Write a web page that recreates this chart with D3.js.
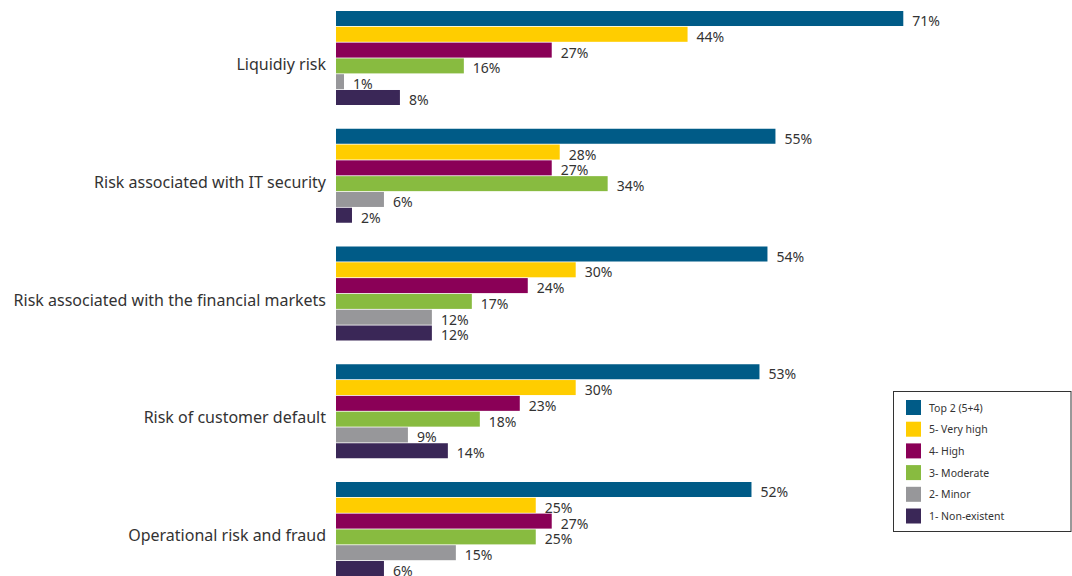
<!DOCTYPE html>
<html><head><meta charset="utf-8">
<script src="https://cdn.jsdelivr.net/npm/d3@7"></script>
<style>
html,body{margin:0;padding:0;background:#fff;}
svg{display:block;font-family:"Noto Sans",sans-serif;}
</style></head>
<body><svg id="chart" width="1072" height="576"></svg>
<script>
const categories = ["Liquidiy risk","Risk associated with IT security","Risk associated with the financial markets","Risk of customer default","Operational risk and fraud"];
const seriesNames = ["Top 2 (5+4)","5- Very high","4- High","3- Moderate","2- Minor","1- Non-existent"];
const seriesColors = ["#005B87","#FFCD00","#8A0057","#88BB40","#97979A","#3A2757"];
const top2 =     [71,55,54,53,52];
const veryHigh = [44,28,30,30,25];
const high =     [27,27,24,23,27];
const moderate = [16,34,17,18,25];
const minor =    [1,6,12,9,15];
const nonExist = [8,2,12,14,6];
const seriesValues = [top2,veryHigh,high,moderate,minor,nonExist];

const svg = d3.select("#chart");
const x = d3.scaleLinear().domain([0,100]).range([336,1135]);
const y = d3.scaleBand().domain(categories).range([11,576]).paddingInner(0.2017).paddingOuter(0);
const ys = d3.scaleBand().domain(seriesNames).range([0,y.bandwidth()]).paddingInner(0.05).paddingOuter(0);

const rows = [];
categories.forEach((c,ci)=>{
  seriesNames.forEach((s,si)=>{
    rows.push({c, s, si, v: seriesValues[si][ci]});
  });
});

svg.append("g").selectAll("rect").data(rows).join("rect")
  .attr("x", x(0))
  .attr("y", d=>y(d.c)+ys(d.s))
  .attr("width", d=>x(d.v)-x(0))
  .attr("height", ys.bandwidth())
  .attr("fill", d=>seriesColors[d.si]);

svg.append("g").selectAll("text").data(rows).join("text")
  .attr("x", d=>x(d.v)+9)
  .attr("y", d=>y(d.c)+ys(d.s)+ys.bandwidth()/2+2)
  .attr("dominant-baseline","central")
  .attr("font-size",14)
  .attr("fill","#333")
  .text(d=>d.v+"%");

svg.append("g").selectAll("text").data(categories).join("text")
  .attr("x", 326)
  .attr("y", d=>y(d)+y.bandwidth()/2+6)
  .attr("text-anchor","end")
  .attr("dominant-baseline","central")
  .attr("font-size",16)
  .attr("fill","#333")
  .text(d=>d);

const lg = svg.append("g");
lg.append("rect").attr("x",893.5).attr("y",391.5).attr("width",177.5).attr("height",140)
  .attr("fill","#fff").attr("stroke","#333").attr("stroke-width",1);
const ly = d3.scaleBand().domain(seriesNames).range([400,400+6*21.7]);
lg.selectAll("rect.sw").data(seriesNames).join("rect").attr("class","sw")
  .attr("x",906).attr("y",d=>ly(d)).attr("width",15).attr("height",15)
  .attr("fill",(d,i)=>seriesColors[i]);
lg.selectAll("text").data(seriesNames).join("text")
  .attr("x",929).attr("y",d=>ly(d)+7.5)
  .attr("dominant-baseline","central")
  .attr("font-size",10.5).attr("fill","#333")
  .text(d=>d);
</script></body></html>
